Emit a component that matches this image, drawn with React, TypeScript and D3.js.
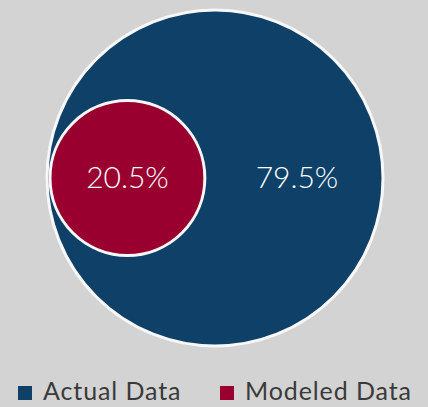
import React, { useEffect, useRef } from "react";
import * as d3 from "d3";

const categories = ["Actual Data", "Modeled Data"];
const values = [79.5, 20.5];
const colors = ["#0e4068", "#990030"];

const App = () => {
  const svgRef = useRef<SVGSVGElement>(null);

  useEffect(() => {
    const width = 428, height = 407;
    const cx = 215, cy = 178, bigR = 168;

    const svg = d3.select(svgRef.current);
    svg.selectAll("*").remove();
    svg.attr("width", width).attr("height", height);

    svg.append("rect")
      .attr("width", width)
      .attr("height", height)
      .attr("fill", "#d3d3d3");

    // area proportional radius, total = big circle
    const total = d3.sum(values);
    const r = d3.scaleSqrt().domain([0, total]).range([0, bigR + 3]);
    const smallR = r(values[1]);
    const smallCx = cx - bigR + smallR + 3;

    const g = svg.append("g");

    g.append("circle")
      .attr("cx", cx)
      .attr("cy", cy)
      .attr("r", bigR)
      .attr("fill", colors[0])
      .attr("stroke", "#f7f7f7")
      .attr("stroke-width", 3);

    g.append("circle")
      .attr("cx", smallCx)
      .attr("cy", cy)
      .attr("r", smallR)
      .attr("fill", colors[1])
      .attr("stroke", "#f7f7f7")
      .attr("stroke-width", 3);

    const fmt = (v: number) => `${v.toFixed(1)}%`;

    // labels
    const labelFont = "'Lato Light', 'Lato', sans-serif";
    g.append("text")
      .attr("x", smallCx)
      .attr("y", cy + 10)
      .attr("text-anchor", "middle")
      .attr("font-family", labelFont)
      .attr("font-weight", 300)
      .attr("font-size", 30)
      .attr("fill", "#ffffff")
      .text(fmt(values[1]));

    g.append("text")
      .attr("x", (smallCx + smallR + cx + bigR) / 2 + 3)
      .attr("y", cy + 10)
      .attr("text-anchor", "middle")
      .attr("font-family", labelFont)
      .attr("font-weight", 300)
      .attr("font-size", 30)
      .attr("fill", "#ffffff")
      .text(fmt(values[0]));

    // legend
    const legendX = [18, 220];
    const legend = svg.append("g").selectAll("g")
      .data(categories)
      .enter()
      .append("g")
      .attr("transform", (d, i) => `translate(${legendX[i]}, 386)`);

    legend.append("rect")
      .attr("width", 14)
      .attr("height", 14)
      .attr("fill", (d, i) => colors[i]);

    legend.append("text")
      .attr("x", 25)
      .attr("y", 14)
      .attr("font-family", "Lato")
      .attr("font-size", 25)
      .attr("letter-spacing", 0.9)
      .attr("fill", "#3a3a3a")
      .text(d => d);
  }, []);

  return (
    <svg ref={svgRef} style={{ position: "fixed", top: 0, left: 0, display: "block" }} />
  );
};

export default App;
